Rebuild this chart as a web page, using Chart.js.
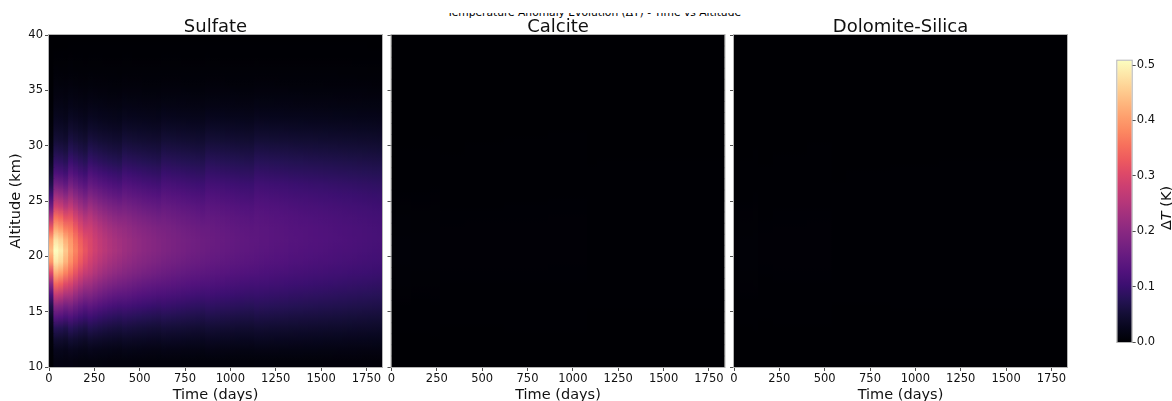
<!DOCTYPE html>
<html>
<head>
<meta charset="utf-8">
<script src="https://cdn.jsdelivr.net/npm/chart.js@4/dist/chart.umd.min.js"></script>
<style>
  html, body { margin: 0; padding: 0; background: #ffffff; }
  #wrap { position: relative; width: 1172px; height: 401px; overflow: hidden; background: #ffffff; }
  #wrap canvas { position: absolute; left: 0; top: 0; }
  #sup { position: absolute; left: 8px; top: 13px; width: 1172px; height: 5px; overflow: hidden; }
  #sup div { position: absolute; left: 0; top: -6px; width: 1172px; text-align: center; white-space: nowrap;
             font: 10.7px "DejaVu Sans", sans-serif; line-height: 12px; color: #000; }
</style>
</head>
<body>
<div id="wrap">
  <div id="sup"><div>Temperature Anomaly Evolution (ΔT) - Time vs Altitude</div></div>
  <canvas id="p1" width="1172" height="401"></canvas>
  <canvas id="p2" width="1172" height="401"></canvas>
  <canvas id="p3" width="1172" height="401"></canvas>
  <canvas id="cb" width="1172" height="401"></canvas>
</div>
<script>
// ---------------- DATA ----------------
const panelTitles = ['Sulfate', 'Calcite', 'Dolomite-Silica'];
const timeTicksDays = [0, 250, 500, 750, 1000, 1250, 1500, 1750];
const altitudeTicksKm = [10, 15, 20, 25, 30, 35, 40];
const colorbarTicksK = [0.0, 0.1, 0.2, 0.3, 0.4, 0.5];
const timeRangeDays = [0, 1836];
const altitudeRangeKm = [10, 40];
const deltaTMax = 0.508;

// time columns (centre day of each 27-day column)
const timeColumnDays = [
  13.5, 40.5, 67.5, 94.5, 121.5, 148.5, 175.5, 202.5, 229.5, 256.5,
  283.5, 310.5, 337.5, 364.5, 391.5, 418.5, 445.5, 472.5, 499.5, 526.5,
  553.5, 580.5, 607.5, 634.5, 661.5, 688.5, 715.5, 742.5, 769.5, 796.5,
  823.5, 850.5, 877.5, 904.5, 931.5, 958.5, 985.5, 1012.5, 1039.5, 1066.5,
  1093.5, 1120.5, 1147.5, 1174.5, 1201.5, 1228.5, 1255.5, 1282.5, 1309.5, 1336.5,
  1363.5, 1390.5, 1417.5, 1444.5, 1471.5, 1498.5, 1525.5, 1552.5, 1579.5, 1606.5,
  1633.5, 1660.5, 1687.5, 1714.5, 1741.5, 1768.5, 1795.5, 1822.5
];

// altitude rows (centre km of each 1 km row)
const altitudeRowKm = [
  10.5, 11.5, 12.5, 13.5, 14.5, 15.5, 16.5, 17.5, 18.5, 19.5,
  20.5, 21.5, 22.5, 23.5, 24.5, 25.5, 26.5, 27.5, 28.5, 29.5,
  30.5, 31.5, 32.5, 33.5, 34.5, 35.5, 36.5, 37.5, 38.5, 39.5
];

// peak ΔT (K) of each time column
const sulfatePeakDT = [
  0.440, 0.508, 0.490, 0.450, 0.410, 0.375, 0.345, 0.320, 0.300, 0.283,
  0.268, 0.256, 0.246, 0.238, 0.231, 0.224, 0.218, 0.212, 0.207, 0.202,
  0.198, 0.194, 0.190, 0.186, 0.183, 0.180, 0.177, 0.174, 0.171, 0.168,
  0.166, 0.163, 0.161, 0.159, 0.157, 0.155, 0.153, 0.151, 0.149, 0.147,
  0.146, 0.144, 0.143, 0.141, 0.140, 0.138, 0.137, 0.136, 0.135, 0.133,
  0.132, 0.131, 0.130, 0.129, 0.128, 0.127, 0.126, 0.125, 0.124, 0.123,
  0.122, 0.121, 0.120, 0.119, 0.118, 0.117, 0.116, 0.115
];
const calcitePeakDT = [
  0.003, 0.004, 0.004, 0.004, 0.003, 0.003, 0.003, 0.003, 0.003, 0.003,
  0.002, 0.002, 0.002, 0.002, 0.002, 0.002, 0.002, 0.002, 0.002, 0.002,
  0.002, 0.002, 0.002, 0.002, 0.002, 0.002, 0.002, 0.002, 0.002, 0.002,
  0.002, 0.002, 0.002, 0.002, 0.002, 0.002, 0.002, 0.002, 0.002, 0.002,
  0.001, 0.001, 0.001, 0.001, 0.001, 0.001, 0.001, 0.001, 0.001, 0.001,
  0.001, 0.001, 0.001, 0.001, 0.001, 0.001, 0.001, 0.001, 0.001, 0.001,
  0.001, 0.001, 0.001, 0.001, 0.001, 0.001, 0.001, 0.001
];
const dolomitePeakDT = [
  0.002, 0.003, 0.003, 0.003, 0.003, 0.002, 0.002, 0.002, 0.002, 0.002,
  0.002, 0.002, 0.002, 0.002, 0.002, 0.002, 0.002, 0.002, 0.002, 0.002,
  0.001, 0.001, 0.001, 0.001, 0.001, 0.001, 0.001, 0.001, 0.001, 0.001,
  0.001, 0.001, 0.001, 0.001, 0.001, 0.001, 0.001, 0.001, 0.001, 0.001,
  0.001, 0.001, 0.001, 0.001, 0.001, 0.001, 0.001, 0.001, 0.001, 0.001,
  0.001, 0.001, 0.001, 0.001, 0.001, 0.001, 0.001, 0.001, 0.001, 0.001,
  0.001, 0.001, 0.001, 0.001, 0.001, 0.001, 0.001, 0.001
];

// which vertical profile (fraction of the column peak) each time column follows
const columnProfile = [
  0,
  1, 1, 1,
  2, 2, 2, 2,
  3, 3, 3, 3, 3, 3, 3,
  4, 4, 4, 4, 4, 4, 4, 4,
  5, 5, 5, 5, 5, 5, 5, 5, 5,
  6, 6, 6, 6, 6, 6, 6, 6, 6, 6,
  7, 7, 7, 7, 7, 7, 7, 7, 7, 7, 7, 7, 7, 7, 7, 7, 7, 7, 7, 7, 7, 7, 7, 7, 7, 7
];
const profileOnset = [0.005, 0.01, 0.02, 0.04, 0.08, 0.15, 0.27, 0.45, 0.68, 0.90,
  1.00, 0.93, 0.75, 0.55, 0.37, 0.24, 0.15, 0.10, 0.065, 0.04,
  0.025, 0.015, 0.008, 0.004, 0.002, 0.001, 0, 0, 0, 0];
const profileEarly = [0.03, 0.05, 0.09, 0.15, 0.26, 0.38, 0.53, 0.68, 0.83, 0.95,
  1.00, 0.94, 0.82, 0.70, 0.56, 0.44, 0.33, 0.24, 0.18, 0.135,
  0.10, 0.075, 0.055, 0.04, 0.028, 0.018, 0.01, 0.005, 0.002, 0];
const profileEarlyMid = [0.035, 0.065, 0.12, 0.195, 0.305, 0.43, 0.575, 0.715, 0.85, 0.95,
  1.00, 0.965, 0.88, 0.775, 0.65, 0.53, 0.42, 0.325, 0.25, 0.19,
  0.145, 0.108, 0.078, 0.055, 0.037, 0.023, 0.013, 0.0065, 0.003, 0.0005];
const profileMid = [0.04, 0.08, 0.15, 0.24, 0.35, 0.48, 0.62, 0.75, 0.87, 0.95,
  1.00, 0.99, 0.94, 0.85, 0.74, 0.62, 0.51, 0.41, 0.32, 0.25,
  0.19, 0.14, 0.10, 0.07, 0.045, 0.028, 0.016, 0.008, 0.004, 0.001];
const profileMidLate1 = [0.0425, 0.09, 0.1675, 0.2625, 0.375, 0.5025, 0.635, 0.7575, 0.87, 0.9475,
  0.995, 0.9925, 0.9525, 0.8775, 0.7825, 0.675, 0.5725, 0.4725, 0.38, 0.3025,
  0.2325, 0.1725, 0.1225, 0.085, 0.055, 0.0335, 0.0195, 0.0098, 0.0048, 0.0013];
const profileMidLate2 = [0.045, 0.10, 0.185, 0.285, 0.40, 0.525, 0.65, 0.765, 0.87, 0.945,
  0.99, 0.995, 0.965, 0.905, 0.825, 0.73, 0.635, 0.535, 0.44, 0.355,
  0.275, 0.205, 0.145, 0.10, 0.065, 0.039, 0.023, 0.012, 0.006, 0.0015];
const profileMidLate3 = [0.0475, 0.11, 0.2025, 0.3075, 0.425, 0.5475, 0.665, 0.7725, 0.87, 0.9425,
  0.985, 0.9975, 0.9775, 0.9325, 0.8675, 0.785, 0.6975, 0.5975, 0.50, 0.4075,
  0.3175, 0.2375, 0.1675, 0.115, 0.075, 0.0445, 0.0265, 0.0135, 0.0063, 0.0018];
const profileLate = [0.05, 0.12, 0.22, 0.33, 0.45, 0.57, 0.68, 0.78, 0.87, 0.94,
  0.98, 1.00, 0.99, 0.96, 0.91, 0.84, 0.76, 0.66, 0.56, 0.46,
  0.36, 0.27, 0.19, 0.13, 0.085, 0.05, 0.03, 0.015, 0.007, 0.002];
const profiles = [profileOnset, profileEarly, profileEarlyMid, profileMid,
  profileMidLate1, profileMidLate2, profileMidLate3, profileLate];

// ---------------- STYLE ----------------
const FONT = '"DejaVu Sans", "Liberation Sans", sans-serif';
const MAGMA_STOPS = ['#000004', '#07061c', '#140e36', '#251255', '#3b0f70', '#51127c', '#641a80',
  '#782281', '#8c2981', '#a1307e', '#b73779', '#cb3e72', '#de4968', '#ee5b5e', '#f7705c',
  '#fc8961', '#fe9f6d', '#feb77e', '#fecf92', '#fde6a8', '#fcfdbf'];
const MAGMA_RGB = MAGMA_STOPS.map(h => [parseInt(h.slice(1, 3), 16), parseInt(h.slice(3, 5), 16), parseInt(h.slice(5, 7), 16)]);
function magmaRGB(v) {
  const t = Math.max(0, Math.min(1, v / deltaTMax)) * (MAGMA_RGB.length - 1);
  const i = Math.min(MAGMA_RGB.length - 2, Math.floor(t));
  const f = t - i, a = MAGMA_RGB[i], b = MAGMA_RGB[i + 1];
  return [a[0] + (b[0] - a[0]) * f, a[1] + (b[1] - a[1]) * f, a[2] + (b[2] - a[2]) * f];
}
const rgbStr = c => 'rgb(' + Math.round(c[0]) + ',' + Math.round(c[1]) + ',' + Math.round(c[2]) + ')';
const mixRGB = (a, b) => [(a[0] + b[0]) / 2, (a[1] + b[1]) / 2, (a[2] + b[2]) / 2];

const TICK_COLOR = '#222222';
const TEXT_COLOR = '#111111';
const SPINE_COLOR = '#b4b4b4';

const panelDecor = {
  id: 'panelDecor',
  beforeDatasetsDraw(chart) {
    const a = chart.chartArea, ctx = chart.ctx;
    ctx.save();
    ctx.fillStyle = MAGMA_STOPS[0];
    ctx.fillRect(a.left, a.top, a.right - a.left, a.bottom - a.top);
    ctx.restore();
  },
  afterDatasetsDraw(chart) {
    const a = chart.chartArea, ctx = chart.ctx;
    ctx.save();
    ctx.strokeStyle = SPINE_COLOR;
    ctx.lineWidth = 1;
    ctx.strokeRect(a.left - 0.5, a.top - 0.5, (a.right - a.left) + 1, (a.bottom - a.top) + 1);
    ctx.restore();
  },
  afterDraw(chart, args, opts) {
    if (!opts || !opts.title) return;
    const a = chart.chartArea, ctx = chart.ctx;
    ctx.save();
    ctx.font = '18px ' + FONT;
    ctx.fillStyle = TEXT_COLOR;
    ctx.textAlign = 'center';
    ctx.textBaseline = 'alphabetic';
    ctx.fillText(opts.title, (a.left + a.right) / 2, 31.5);
    ctx.restore();
  }
};

// cell colours of one panel: cellRGB[row][column]
function cellColours(peak) {
  return altitudeRowKm.map((z, r) => timeColumnDays.map((t, k) => magmaRGB(peak[k] * profiles[columnProfile[k]][r])));
}

function buildDatasets(peak) {
  const cols = cellColours(peak);
  const nRows = altitudeRowKm.length;
  return altitudeRowKm.map((z, r) => ({
    label: 'row ' + z,
    data: timeColumnDays.map(t => ({ x: t, y: [z - 0.5, z + 0.5] })),
    // each cell is shaded smoothly towards its upper/lower neighbours (gouraud-like shading)
    backgroundColor: (c) => {
      const k = c.dataIndex;
      if (k === undefined || !cols[r][k]) return rgbStr(cols[r][0]);
      const mid = cols[r][k];
      const chart = c.chart, ys = chart.scales && chart.scales.y;
      if (!ys) return rgbStr(mid);
      const y0 = ys.getPixelForValue(z - 0.5), y1 = ys.getPixelForValue(z + 0.5);
      if (!isFinite(y0) || !isFinite(y1) || y0 === y1) return rgbStr(mid);
      const lo = r > 0 ? mixRGB(cols[r - 1][k], mid) : mid;
      const hi = r < nRows - 1 ? mixRGB(cols[r + 1][k], mid) : mid;
      const g = chart.ctx.createLinearGradient(0, y0, 0, y1);
      g.addColorStop(0, rgbStr(lo));
      g.addColorStop(0.5, rgbStr(mid));
      g.addColorStop(1, rgbStr(hi));
      return g;
    },
    borderWidth: 0,
    inflateAmount: 0.5,
    barPercentage: 1,
    categoryPercentage: 1,
    grouped: false
  }));
}

function makePanel(canvasId, title, peak, left, right, showYLabels) {
  const yWidth = showYLabels ? 45 : 10;
  return new Chart(document.getElementById(canvasId), {
    type: 'bar',
    data: { datasets: buildDatasets(peak) },
    options: {
      responsive: false,
      animation: false,
      events: [],
      layout: { padding: { left: left - yWidth, right: 1172 - right, top: 35, bottom: 0 } },
      plugins: {
        legend: { display: false },
        tooltip: { enabled: false },
        title: { display: false },
        panelDecor: { title: title }
      },
      scales: {
        x: {
          type: 'linear',
          min: timeRangeDays[0], max: timeRangeDays[1],
          offset: false,
          grid: { display: true, offset: false, drawOnChartArea: false, drawTicks: true, tickLength: 4, color: TICK_COLOR, lineWidth: 0.8 },
          border: { display: false },
          ticks: { font: { family: FONT, size: 11.5 }, color: TEXT_COLOR, padding: 1, maxRotation: 0, autoSkip: false,
                   callback: v => String(v) },
          afterBuildTicks: s => { s.ticks = timeTicksDays.map(v => ({ value: v })); },
          afterFit: s => { s.height = 34; },
          title: { display: true, text: 'Time (days)', font: { family: FONT, size: 14.5 }, color: TEXT_COLOR, padding: { top: 0, bottom: -2.5 } }
        },
        y: {
          type: 'linear',
          min: altitudeRangeKm[0], max: altitudeRangeKm[1],
          grid: { display: true, drawOnChartArea: false, drawTicks: true, tickLength: 4, color: TICK_COLOR, lineWidth: 0.8 },
          border: { display: false },
          ticks: { font: { family: FONT, size: 11.5 }, color: TEXT_COLOR, padding: 2, autoSkip: false,
                   callback: v => showYLabels ? String(v) : '' },
          afterBuildTicks: s => { s.ticks = altitudeTicksKm.map(v => ({ value: v })); },
          afterFit: s => { s.width = yWidth; },
          title: { display: showYLabels, text: 'Altitude (km)', font: { family: FONT, size: 14.5 }, color: TEXT_COLOR, padding: { top: 4, bottom: 0 } }
        }
      }
    },
    plugins: [panelDecor]
  });
}

makePanel('p1', panelTitles[0], sulfatePeakDT, 49, 382, true);
makePanel('p2', panelTitles[1], calcitePeakDT, 391.5, 724.5, false);
makePanel('p3', panelTitles[2], dolomitePeakDT, 734, 1067, false);

// ---------------- COLORBAR ----------------
const colorbarDecor = {
  id: 'colorbarDecor',
  afterDatasetsDraw(chart) {
    const a = chart.chartArea, ctx = chart.ctx;
    ctx.save();
    ctx.strokeStyle = SPINE_COLOR;
    ctx.lineWidth = 1;
    ctx.strokeRect(a.left - 0.5, a.top - 0.5, (a.right - a.left) + 1, (a.bottom - a.top) + 1);
    ctx.restore();
  },
  afterDraw(chart) {
    const ctx = chart.ctx;
    const parts = [['Δ', '14.5px ' + FONT], ['T', 'italic 14.5px ' + FONT], [' (K)', '14.5px ' + FONT]];
    ctx.save();
    let total = 0;
    const widths = parts.map(p => { ctx.font = p[1]; const w = ctx.measureText(p[0]).width; total += w; return w; });
    ctx.translate(1171, 208);
    ctx.rotate(-Math.PI / 2);
    ctx.fillStyle = TEXT_COLOR;
    ctx.textBaseline = 'alphabetic';
    ctx.textAlign = 'left';
    let x = -total / 2;
    parts.forEach((p, i) => { ctx.font = p[1]; ctx.fillText(p[0], x, 0); x += widths[i]; });
    ctx.restore();
  }
};

new Chart(document.getElementById('cb'), {
  type: 'bar',
  data: {
    labels: ['ΔT'],
    datasets: [{
      data: [[0, deltaTMax]],
      backgroundColor: (c) => {
        const chart = c.chart, ys = chart.scales && chart.scales.y;
        if (!chart.chartArea || !ys) return MAGMA_STOPS[10];
        const y0 = ys.getPixelForValue(0), y1 = ys.getPixelForValue(deltaTMax);
        if (!isFinite(y0) || !isFinite(y1) || y0 === y1) return MAGMA_STOPS[10];
        const g = chart.ctx.createLinearGradient(0, y0, 0, y1);
        MAGMA_STOPS.forEach((col, i) => g.addColorStop(i / (MAGMA_STOPS.length - 1), col));
        return g;
      },
      borderWidth: 0,
      barPercentage: 1,
      categoryPercentage: 1
    }]
  },
  options: {
    responsive: false,
    animation: false,
    events: [],
    layout: { padding: { left: 1117.3, right: 1172 - 1131.7 - 35, top: 60.7, bottom: 401 - 342 } },
    plugins: { legend: { display: false }, tooltip: { enabled: false } },
    scales: {
      x: { display: false },
      y: {
        position: 'right',
        min: 0, max: deltaTMax,
        grid: { display: true, drawOnChartArea: false, drawTicks: true, tickLength: 4, color: TICK_COLOR, lineWidth: 0.8 },
        border: { display: false },
        ticks: { font: { family: FONT, size: 11.5 }, color: TEXT_COLOR, padding: 1, autoSkip: false,
                 callback: v => Number(v).toFixed(1) },
        afterBuildTicks: s => { s.ticks = colorbarTicksK.map(v => ({ value: v })); },
        afterFit: s => { s.width = 35; }
      }
    }
  },
  plugins: [colorbarDecor]
});
</script>
</body>
</html>
